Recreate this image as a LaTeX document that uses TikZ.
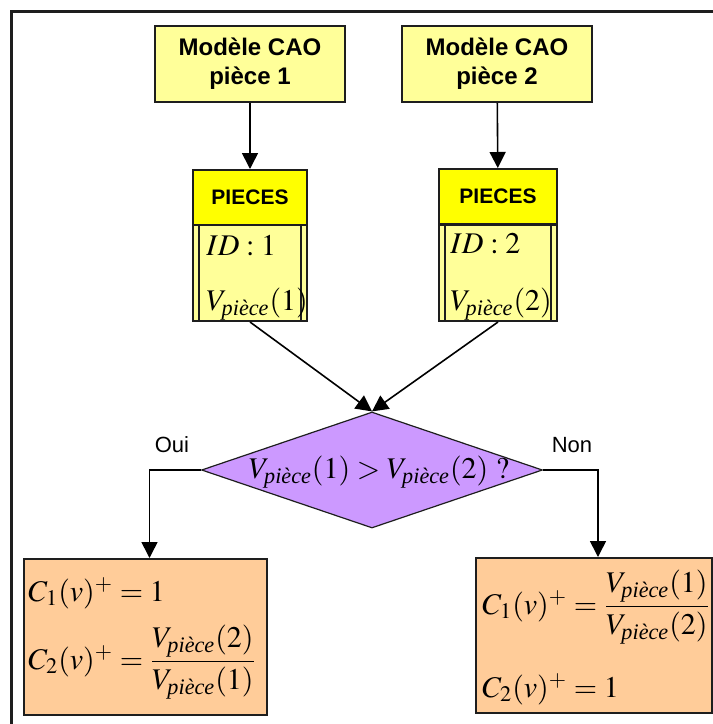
\documentclass[tikz,border=0pt]{standalone}
\usepackage{amsmath}
\usepackage{mathptmx}
\usepackage{fontspec}
\setmainfont{Liberation Serif}
\setsansfont{Liberation Sans}
\usetikzlibrary{shapes.geometric,arrows.meta}

\definecolor{jaunepale}{RGB}{255,255,153}
\definecolor{jaune}{RGB}{255,255,0}
\definecolor{violet}{RGB}{204,153,255}
\definecolor{orange}{RGB}{255,204,153}
\definecolor{bord}{RGB}{30,30,30}

\newcommand{\Vp}{V_{\text{\itshape pièce}}}

\tikzset{
  caobox/.style={draw=bord, fill=jaunepale, line width=1pt, minimum width=95pt, minimum height=38pt,
    align=center, font=\sffamily\bfseries\fontsize{12}{14.5}\selectfont},
  piecehead/.style={draw=bord, fill=jaune, line width=1pt, minimum height=27.5pt,
    font=\sffamily\bfseries\fontsize{10.5}{12}\selectfont},
  piecebody/.style={draw=bord, fill=jaunepale, line width=1pt, minimum height=48pt},
  resbox/.style={draw=bord, fill=orange, line width=1pt},
  mathtxt/.style={inner sep=0pt, font=\fontsize{15}{18}\selectfont},
  lbl/.style={inner sep=0pt, font=\sffamily\fontsize{11}{13}\selectfont},
  fleche/.style={line width=0.8pt, -{Triangle[length=8pt,width=8pt]}}
}

\begin{document}
\begin{tikzpicture}[x=0.5pt, y=-0.5pt]

  \useasboundingbox (0,0) rectangle (713,724);

  % cadre
  \draw[line width=1.5pt, bord] (11,724) -- (11,11) -- (713,11);

  % modeles CAO
  \node[caobox] (cao1) at (250,64) {Modèle CAO\\pièce 1};
  \node[caobox] (cao2) at (497,64) {Modèle CAO\\pièce 2};

  % tables PIECES
  \node[piecehead, minimum width=57pt] (head1) at (250,197.5) {PIECES};
  \node[piecebody, minimum width=57pt] (body1) at (250,273) {};
  \node[piecehead, minimum width=59pt] (head2) at (498,196.5) {PIECES};
  \node[piecebody, minimum width=59pt] (body2) at (498,273) {};

  \foreach \i in {1,2} {
    \draw[bord, line width=0.8pt] ([xshift=3.5pt]body\i.north west) -- ([xshift=3.5pt]body\i.south west);
    \draw[bord, line width=0.8pt] ([xshift=-3.5pt]body\i.north east) -- ([xshift=-3.5pt]body\i.south east);
  }

  \node[mathtxt, anchor=base west] (id1) at (206,255) {$ID:1$};
  \node[mathtxt, anchor=base west] (vol1) at (206,310) {$\Vp(1)$};
  \node[mathtxt, anchor=base west] (id2) at (450,253) {$ID:2$};
  \node[mathtxt, anchor=base west] (vol2) at (450,310) {$\Vp(2)$};

  \draw[fleche] (cao1) -- (head1);
  \draw[fleche] (cao2) -- (head2);

  % test
  \node[diamond, draw=bord, fill=violet, line width=0.6pt, inner sep=0pt,
        minimum width=170.5pt, minimum height=58pt] (test) at (372,470) {};
  \node[mathtxt] (testtxt) at (379,472) {$\Vp(1)>\Vp(2)\ ?$};

  \draw[fleche] (body1.south) -- (test.north);
  \draw[fleche] (body2.south) -- (test.north);

  % resultats
  \node[resbox, minimum width=121.5pt, minimum height=78pt] (res1) at (145.5,637) {};
  \node[resbox, minimum width=118pt, minimum height=77.5pt] (res2) at (594,635.5) {};

  \node[mathtxt, anchor=base west] (c11) at (28,601) {$C_1(v)^+ = 1$};
  \node[mathtxt, anchor=base west] (c21) at (28,669) {$C_2(v)^+ = \dfrac{\Vp(2)}{\Vp(1)}$};
  \node[mathtxt, anchor=base west] (c12) at (482,614) {$C_1(v)^+ = \dfrac{\Vp(1)}{\Vp(2)}$};
  \node[mathtxt, anchor=base west] (c22) at (482,697) {$C_2(v)^+ = 1$};

  \draw[fleche] (test.west) -| ([xshift=2pt]res1.north);
  \draw[fleche] (test.east) -| ([xshift=2pt]res2.north);

  \node[lbl] (oui) at (172,445) {Oui};
  \node[lbl] (non) at (572,445) {Non};

\end{tikzpicture}
\end{document}
